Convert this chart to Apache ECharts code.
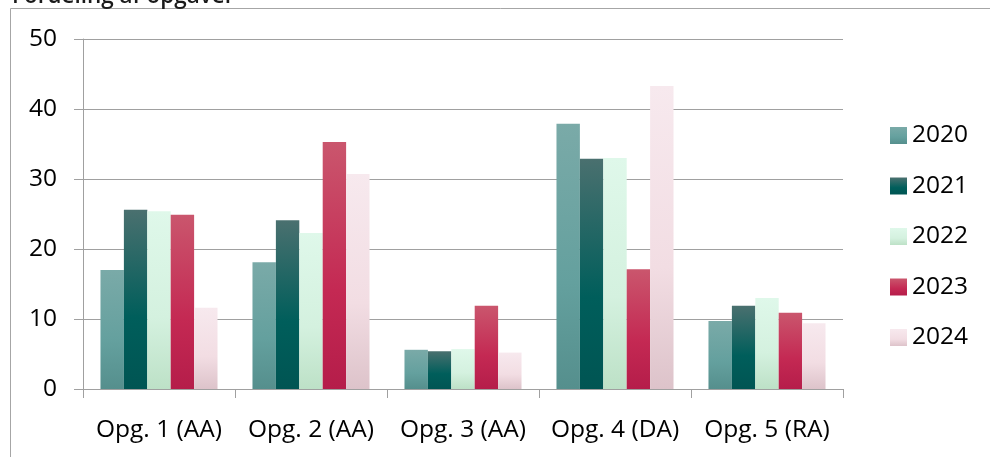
<!DOCTYPE html>
<html><head><meta charset="utf-8">
<script src="https://cdn.jsdelivr.net/npm/echarts@6/dist/echarts.min.js"></script>
<style>html,body{margin:0;padding:0;background:#fff}#c{width:990px;height:457px}</style>
</head><body><div id="c"></div>
<script>
var categories = ['Opg. 1 (AA)', 'Opg. 2 (AA)', 'Opg. 3 (AA)', 'Opg. 4 (DA)', 'Opg. 5 (RA)'];
var seriesNames = ['2020', '2021', '2022', '2023', '2024'];
var v2020 = [17.0, 18.1, 5.6, 37.9, 9.7];
var v2021 = [25.6, 24.1, 5.4, 32.9, 11.9];
var v2022 = [25.4, 22.3, 5.7, 33.0, 13.0];
var v2023 = [24.9, 35.3, 11.9, 17.1, 10.9];
var v2024 = [11.6, 30.7, 5.2, 43.3, 9.4];
var yTicks = [0, 10, 20, 30, 40, 50];
var titleText = 'Fordeling af opgaver';

var values = [v2020, v2021, v2022, v2023, v2024];
var gradients = [
  ['#7aaaa8', '#64a09e', '#558f8d'],
  ['#4a706f', '#005e5b', '#005553'],
  ['#dff8ea', '#d4f1df', '#bde1c7'],
  ['#ca566d', '#c42953', '#b51d4a'],
  ['#f7e9ee', '#f2dde3', '#ddc3ca']
];
function grad(c) {
  return {type: 'linear', x: 0, y: 0, x2: 0, y2: 1,
    colorStops: [{offset: 0, color: c[0]}, {offset: 0.6, color: c[1]}, {offset: 1, color: c[2]}]};
}
var FONT = '"Open Sans", "Noto Sans", sans-serif';
var FS = 24.5;
var chart = echarts.init(document.getElementById('c'), null, {renderer: 'canvas'});
chart.setOption({
  animation: false,
  textStyle: {fontFamily: FONT},
  graphic: [
    {type: 'rect', shape: {x: 10.5, y: 8.5, width: 1100, height: 600}, style: {fill: 'none', stroke: '#a6a6a6', lineWidth: 1}, silent: true},
    {type: 'text', x: 12, y: -3, style: {text: titleText, font: '600 22.5px ' + FONT, fill: '#1a1a1a', verticalAlign: 'middle'}, silent: true}
  ],
  grid: {left: 83, right: 147, top: 39, bottom: 68, containLabel: false},
  legend: {
    orient: 'vertical', left: 885, top: 118,
    itemWidth: 17, itemHeight: 17, itemGap: 25.5,
    icon: 'rect',
    textStyle: {fontSize: FS, color: '#000', fontFamily: FONT, padding: [0, 0, 0, 0]},
    data: seriesNames
  },
  xAxis: {
    type: 'category', data: categories,
    axisLine: {lineStyle: {color: '#a0a0a0', width: 1}},
    axisTick: {show: true, length: 9, lineStyle: {color: '#a0a0a0'}},
    axisLabel: {fontSize: FS, color: '#000', margin: 29, interval: 0}
  },
  yAxis: {
    type: 'value', min: 0, max: 50, interval: 10,
    axisLine: {show: true, lineStyle: {color: '#a0a0a0', width: 1}},
    axisTick: {show: true, length: 9, lineStyle: {color: '#a0a0a0'}},
    axisLabel: {fontSize: FS, color: '#000', margin: 26,
      formatter: function (v) { return yTicks.indexOf(v) >= 0 ? String(v) : ''; }},
    splitLine: {lineStyle: {color: '#a0a0a0', width: 1}}
  },
  series: seriesNames.map(function (n, i) {
    return {name: n, type: 'bar', data: values[i], barGap: '0%', barCategoryGap: '23%',
      itemStyle: {color: grad(gradients[i])}};
  })
});
</script></body></html>
